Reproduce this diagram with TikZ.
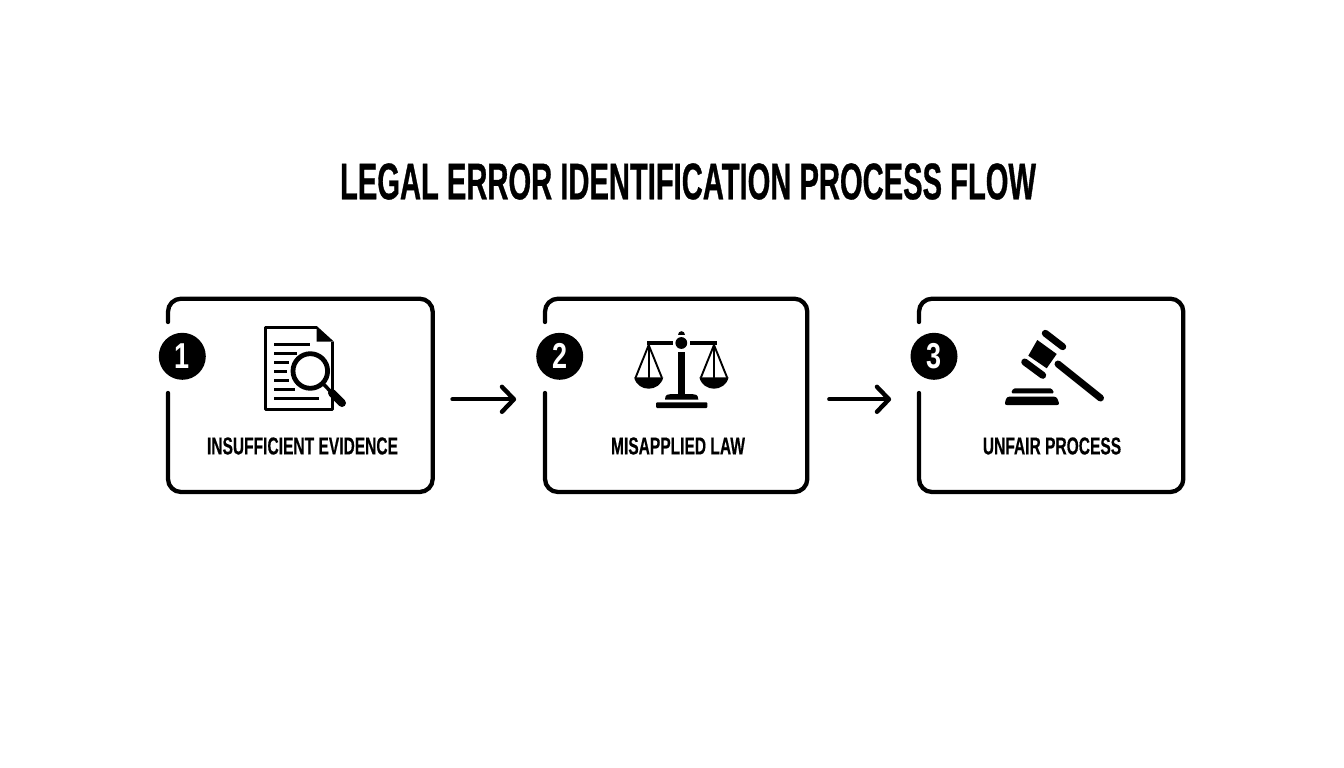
\documentclass[tikz,border=0pt]{standalone}
\usepackage{fontspec}
\usetikzlibrary{arrows.meta}
\newfontfamily\titlefont[FakeStretch=0.565,FakeBold=0.6]{Liberation Sans}
\newfontfamily\labelfont[FakeStretch=0.635,FakeBold=0.3]{Liberation Sans}
\newfontfamily\digitfont[FakeStretch=0.75]{Liberation Sans}
\tikzset{
	cardline/.style={line width=4.3pt,line cap=round,rounded corners=13pt},
	cardbox/.style={minimum width=262pt,minimum height=193pt,inner sep=0pt,outer sep=0pt},
	badge/.style={circle,fill=black,text=white,minimum size=47pt,inner sep=0pt,font=\digitfont\bfseries\fontsize{36}{36}\selectfont},
	cardtext/.style={font=\labelfont\bfseries\fontsize{24.5}{24.5}\selectfont},
	flow/.style={line width=4pt,line cap=round,-{Straight Barb[length=12pt,width=25pt,line width=4.4pt,round]}},
	rule/.style={line width=3pt},
	iconline/.style={line width=1.9pt,line cap=round}
}
\begin{document}
\begin{tikzpicture}[x=1pt,y=-1pt]
	\useasboundingbox (0,0) rectangle (1344,768);
	\node[font=\titlefont\bfseries\fontsize{51.6}{51.6}\selectfont] (title) at (688,181.5) {LEGAL ERROR IDENTIFICATION PROCESS FLOW};
	% cards
	\foreach \i/\l/\r/\lab/\tx in {1/168/432.7/INSUFFICIENT EVIDENCE/302.5,2/545/807.3/MISAPPLIED LAW/678,3/919/1183.3/UNFAIR PROCESS/1052} {
		\node[cardbox] (card\i) at ({(\l+\r)/2},395.3) {};
		\draw[cardline] (\l,322) -- (\l,298.7) -- (\r,298.7) -- (\r,492) -- (\l,492) -- (\l,393);
		\node[cardtext] (label\i) at (\tx,446) {\lab};
	}
	\node[badge] (badge1) at (182.3,356.3) {1};
	\node[badge] (badge2) at (559.7,356.3) {2};
	\node[badge] (badge3) at (934,356.3) {3};
	\draw[flow,shorten <=21pt,shorten >=29pt] ([yshift=-4pt]card1.east) -- ([yshift=-4pt]card2.west);
	\draw[flow,shorten <=22pt,shorten >=29pt] ([yshift=-4pt]card2.east) -- ([yshift=-4pt]card3.west);
	% document and lens
	\draw[line width=3pt,line join=round] (316.7,327.3) -- (265.7,327.3) -- (265.7,409.3) -- (332.7,409.3) -- (332.7,341.7);
	\fill[line join=round] (316.7,326) -- (334,341.7) -- (316.7,341.7) -- cycle;
	\foreach \yy/\xe in {344/310,353/296.7,362/288.7,371/286.7,380/288.7,389/295,398/319}
		\draw[rule] (274.3,\yy) -- (\xe,\yy);
	\draw[line width=4.8pt,fill=white] (310.3,371) circle (17.3pt);
	\draw[line width=3.5pt] (324,384.5) -- (331,392);
	\draw[line width=8pt,line cap=round] (332,393) -- (342,403);
	% scales
	\fill (677.8,335.2) .. controls (677.8,330.2) and (684.8,330.2) .. (684.8,335.2) -- cycle;
	\fill (681.3,343) circle (5.9pt);
	\fill (646.7,341) rectangle (673.3,345);
	\fill (690,341) rectangle (716.7,345);
	\fill (677.8,352.3) rectangle (684.8,395);
	\fill (665,399.5) .. controls (665,394.5) and (668,394) .. (671,394) -- (692,394) .. controls (695,394) and (698.3,394.5) .. (698.3,399.5) -- cycle;
	\fill[rounded corners=1pt] (656,402.3) rectangle (707.3,408);
	\foreach \px in {648.7,714} {
		\draw[iconline] (\px,345) -- (\px-13,377.3);
		\draw[iconline] (\px,345) -- (\px,377.3);
		\draw[iconline] (\px,345) -- (\px+13,377.3);
		\fill (\px-14.6,377.3) .. controls (\px-11,392.5) and (\px+11,392.5) .. (\px+14.6,377.3) -- cycle;
	}
	% gavel
	\draw[line width=7pt,line cap=round] (1045.3,333.3) -- (1062.7,346.7);
	\draw[line width=7pt,line cap=round] (1024.7,362) -- (1042.7,375.3);
	\fill (1037.3,340) -- (1056.7,354) -- (1046.7,368.3) -- (1028.3,355.7) -- cycle;
	\draw[line width=7pt,line cap=round] (1058,364) -- (1100.5,398);
	\fill[rounded corners=1.5pt] (1011,393.3) -- (1013.3,388.3) -- (1051.7,388.3) -- (1054.3,393.3) -- cycle;
	\fill[rounded corners=2.5pt] (1004.3,405) -- (1006.7,396.7) -- (1056.7,396.7) -- (1059.7,405) -- cycle;
\end{tikzpicture}
\end{document}
